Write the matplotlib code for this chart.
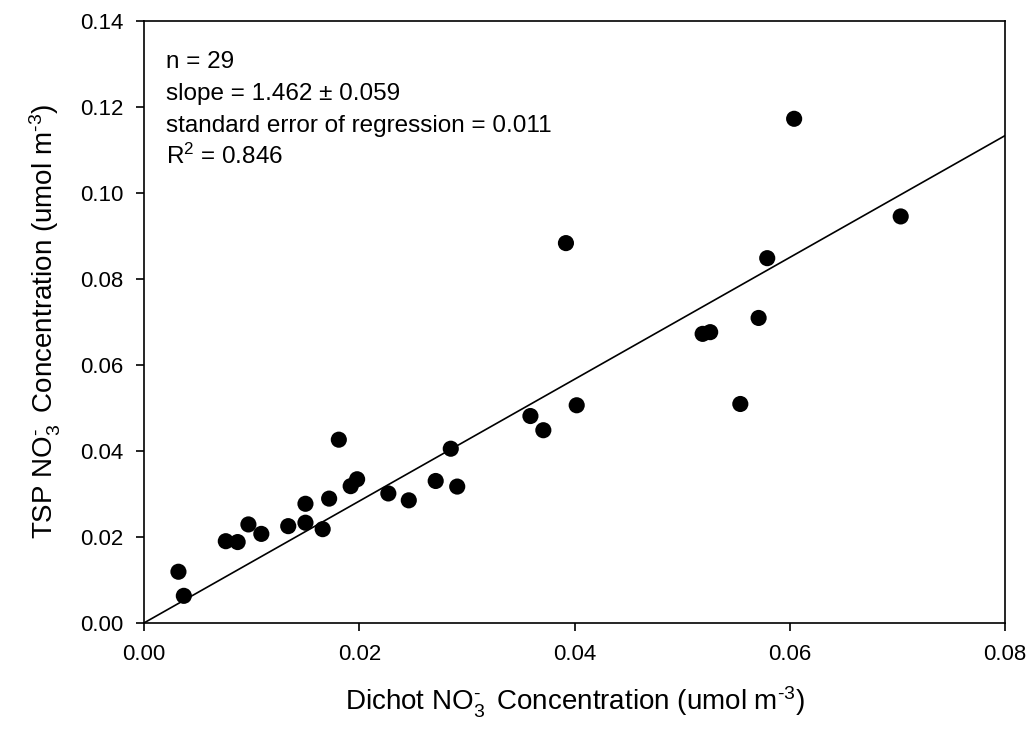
import numpy as np
import matplotlib
matplotlib.use("Agg")
import matplotlib.pyplot as plt

# Dichot vs TSP nitrate
dichot = [0.0032, 0.0037, 0.0076, 0.0087, 0.0097, 0.0109, 0.0134, 0.0150,
          0.0150, 0.0166, 0.0172, 0.0181, 0.0192, 0.0198, 0.0227, 0.0246,
          0.0271, 0.0285, 0.0291, 0.0359, 0.0371, 0.0392, 0.0402, 0.0519,
          0.0526, 0.0554, 0.0571, 0.0579, 0.0604, 0.0703]
tsp = [0.0119, 0.0063, 0.0190, 0.0188, 0.0229, 0.0207, 0.0225, 0.0233,
       0.0277, 0.0218, 0.0289, 0.0426, 0.0318, 0.0334, 0.0301, 0.0285,
       0.0330, 0.0405, 0.0317, 0.0481, 0.0448, 0.0883, 0.0506, 0.0672,
       0.0676, 0.0509, 0.0709, 0.0848, 0.1172, 0.0945]

# regression line as drawn
fit_x = [0.0, 0.08]
fit_y = [0.0, 0.1133]

stats = ["n = 29",
         "slope = 1.462 \u00b1 0.059",
         "standard error of regression = 0.011",
         "R$^2$ = 0.846"]

plt.rcParams['font.family'] = ['Liberation Sans', 'DejaVu Sans']
plt.rcParams['mathtext.fontset'] = 'custom'
plt.rcParams['mathtext.rm'] = 'Liberation Sans'
plt.rcParams['mathtext.it'] = 'Liberation Sans'

fig = plt.figure(figsize=(10.33, 7.32), dpi=100)
ax = fig.add_axes([0.1394, 0.149, 0.8336, 0.8227])

ax.plot(fit_x, fit_y, color='black', lw=1.2, zorder=2)
ax.scatter(dichot, tsp, s=135, color='black', edgecolors='none', zorder=3)

ax.set_xlim(0, 0.08)
ax.set_ylim(0, 0.14)
ax.set_xticks(np.arange(0, 0.081, 0.02))
ax.set_yticks(np.arange(0, 0.141, 0.02))
ax.set_xticklabels(["%.2f" % v for v in np.arange(0, 0.081, 0.02)])
ax.set_yticklabels(["%.2f" % v for v in np.arange(0, 0.141, 0.02)])
ax.tick_params(direction='out', length=6, width=1.2, labelsize=16, pad=9,
               top=False, right=False)
for sp in ax.spines.values():
    sp.set_linewidth(1.2)

xl = r"Dichot NO$_3^{\text{-}}\,$ Concentration (umol m$^{\text{-}3}$)"
yl = r"TSP NO$_3^{\text{-}}\,$ Concentration (umol m$^{\text{-}3}$)"
ax.set_xlabel(xl, fontsize=20, labelpad=14)
ax.set_ylabel(yl, fontsize=20, labelpad=12)

ypos = [0.922, 0.869, 0.816, 0.762]
for s, yy in zip(stats, ypos):
    ax.text(0.0255, yy, s, transform=ax.transAxes, fontsize=17.5, va='baseline', ha='left')

fig.savefig("out.png", dpi=100)
